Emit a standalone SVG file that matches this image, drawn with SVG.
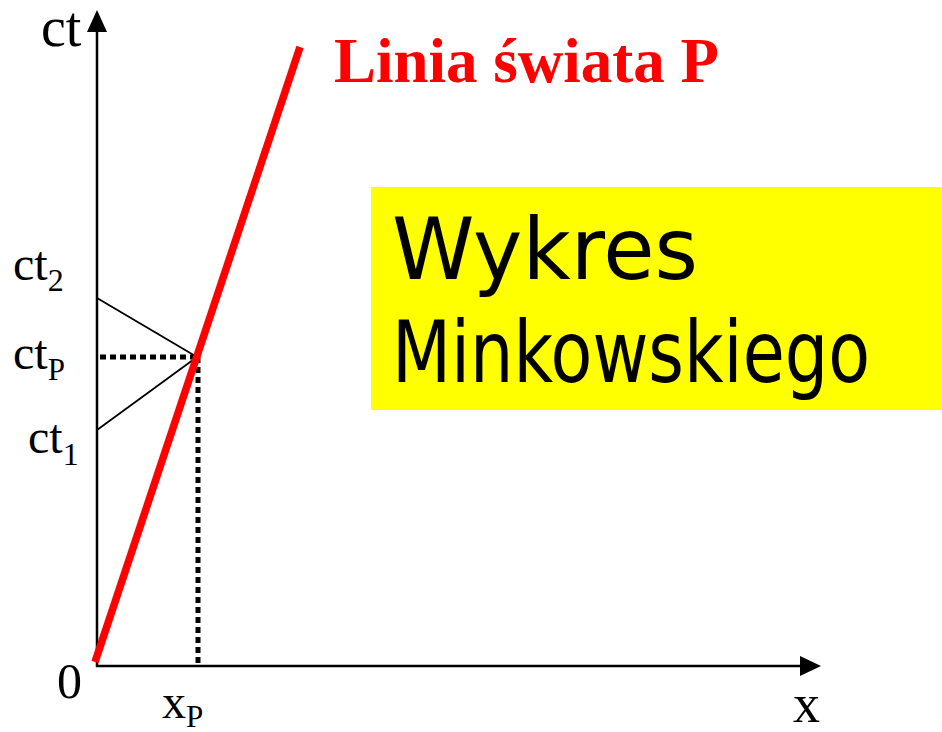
<svg xmlns="http://www.w3.org/2000/svg" width="942" height="732" viewBox="0 0 942 732">
<defs>
<style>
.lbl{font-family:"Liberation Serif","Times New Roman",serif;fill:#000}
.axis{stroke:#000;stroke-width:2.5;fill:none}
.dot{stroke:#000;stroke-width:5;stroke-dasharray:6 4;fill:none}
.thin{stroke:#000;stroke-width:1.8;fill:none}
.comic{font-family:"Comic Sans MS","DejaVu Sans",sans-serif;font-size:86px;fill:#000}
</style>
</defs>
<rect width="942" height="732" fill="#fff"/>
<g id="box">
<rect x="371" y="187" width="571" height="223" fill="#ffff00"/>
<text class="comic" x="392" y="279" textLength="306" lengthAdjust="spacingAndGlyphs">Wykres</text>
<text class="comic" x="392" y="382" textLength="478" lengthAdjust="spacingAndGlyphs">Minkowskiego</text>
</g>
<g id="connectors">
<line class="axis" x1="97" y1="667" x2="97" y2="30"/>
<polygon points="97,10 87,32 107,32" fill="#000"/>
<line class="axis" x1="96" y1="666" x2="802" y2="666"/>
<polygon points="821,666 800,656 800,676" fill="#000"/>
<line class="thin" x1="97" y1="298" x2="197" y2="357"/>
<line class="thin" x1="97" y1="430" x2="197" y2="357"/>
<line class="dot" x1="100" y1="357" x2="198" y2="357"/>
<line class="dot" x1="198" y1="357" x2="198" y2="666"/>
<line x1="95" y1="662" x2="300" y2="47" stroke="#ff0000" stroke-width="7.5"/>
</g>
<g id="labels">
<text class="lbl" x="41" y="46" font-size="56">ct</text>
<text class="lbl" x="13" y="280" font-size="48">ct<tspan font-size="32" dy="11">2</tspan></text>
<text class="lbl" x="13" y="369" font-size="48">ct<tspan font-size="31" dy="11">P</tspan></text>
<text class="lbl" x="28" y="453" font-size="48">ct<tspan font-size="32" dy="12">1</tspan></text>
<text class="lbl" x="57" y="698" font-size="50">0</text>
<text class="lbl" x="162" y="718" font-size="48">x<tspan font-size="31" dy="9">P</tspan></text>
<text class="lbl" x="793" y="722" font-size="54">x</text>
<text x="334" y="82" font-family="'Liberation Serif','Times New Roman',serif" font-weight="bold" font-size="63" fill="#ff0000">Linia świata P</text>
</g>
</svg>
